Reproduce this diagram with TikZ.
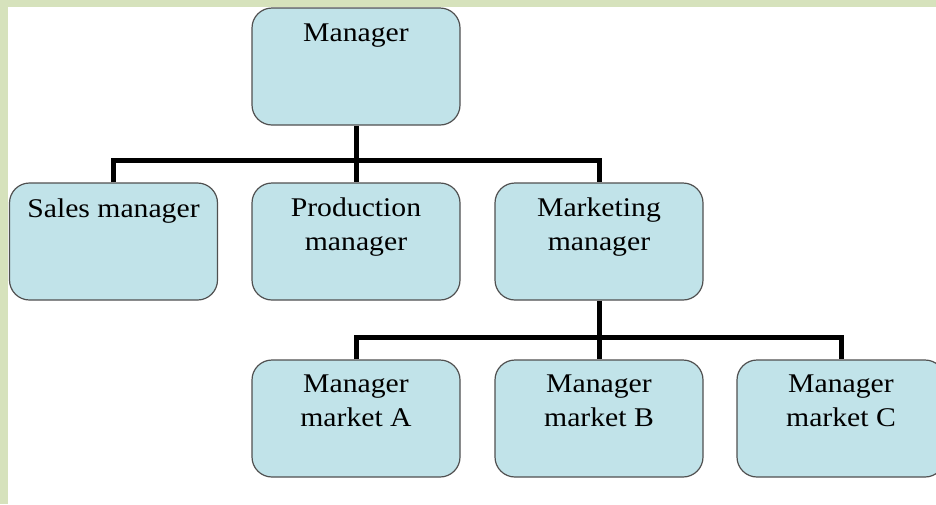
\documentclass[tikz,border=0pt]{standalone}
\usepackage{fontspec}
\setmainfont{Liberation Serif}[FakeStretch=1.1]
\usetikzlibrary{positioning}
\definecolor{framegreen}{RGB}{214,226,188}
\definecolor{boxfill}{RGB}{193,227,233}
\definecolor{boxline}{RGB}{80,80,80}
\begin{document}
\begin{tikzpicture}[x=1pt,y=-1pt,
  box/.style={draw=boxline,fill=boxfill,line width=1.2pt,rounded corners=20pt,minimum width=208pt,minimum height=117pt},
  txt/.style={anchor=north,align=center,inner sep=0pt,font=\fontsize{27}{34}\selectfont},
  link/.style={line width=5pt,line join=miter}]
\path[use as bounding box,clip] (0,0) rectangle (936,504);
\fill[framegreen] (0,0) rectangle (936,504); \fill[white] (8,7) rectangle (936,504);
% boxes
\node[box] (mgr) at (356,66.5){}; \node[box] (sales) at (113.5,241.5){};
\node[box] (prod) at (356,241.5){}; \node[box] (mkt) at (599,241.5){};
\node[box] (mkta) at (356,418.5){}; \node[box] (mktb) at (599,418.5){}; \node[box] (mktc) at (841,418.5){};
% texts
\node[txt,below=16pt of mgr.north] (mgrt){Manager};
\node[txt,below=16pt of sales.north] (salest){Sales manager};
\node[txt,below=15pt of prod.north] (prodt){Production\\manager};
\node[txt,below=15pt of mkt.north] (mktt){Marketing\\manager};
\node[txt,below=15pt of mkta.north] (mktat){Manager\\market A};
\node[txt,below=15pt of mktb.north] (mktbt){Manager\\market B};
\node[txt,below=15pt of mktc.north] (mktct){Manager\\market C};
% connectors
\coordinate (j1) at (356,160); \coordinate (j2) at (599,337);
\draw[link] (mgr.south)--(j1); \draw[link] (sales.north) |- (j1) -| (mkt.north); \draw[link] (j1)--(prod.north);
\draw[link] (mkt.south)--(j2); \draw[link] (mkta.north) |- (j2) -| (mktc.north); \draw[link] (j2)--(mktb.north);
\end{tikzpicture}
\end{document}
